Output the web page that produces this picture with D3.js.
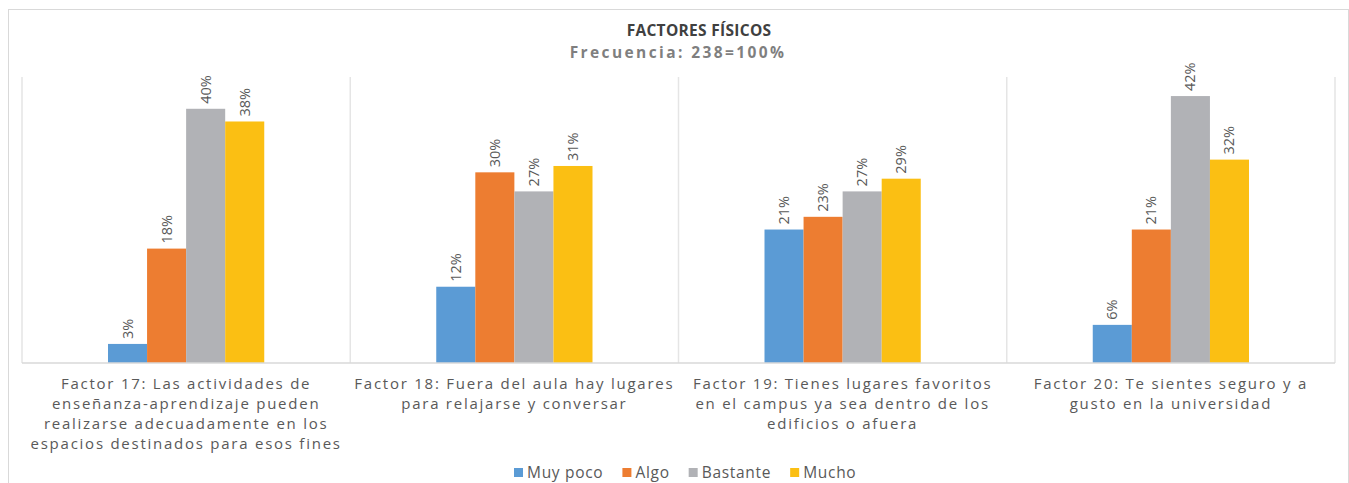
<!DOCTYPE html>
<html>
<head>
<meta charset="utf-8">
<script src="https://cdn.jsdelivr.net/npm/d3@7"></script>
<style>
  body { margin: 0; background: #fff; }
  svg { display: block; font-family: "Open Sans", "Noto Sans", sans-serif; }
</style>
</head>
<body>
<div id="chart"></div>
<script>
// categories (already broken into lines as in the picture)
const categories = [
  ["Factor 17: Las actividades de", "enseñanza-aprendizaje pueden", "realizarse adecuadamente en los", "espacios destinados para esos fines"],
  ["Factor 18: Fuera del aula hay lugares", "para relajarse y conversar"],
  ["Factor 19: Tienes lugares favoritos", "en el campus ya sea dentro de los", "edificios o afuera"],
  ["Factor 20: Te sientes seguro y a", "gusto en la universidad"]
];
const series = ["Muy poco", "Algo", "Bastante", "Mucho"];
const muyPoco  = [3, 12, 21, 6];
const algo     = [18, 30, 23, 21];
const bastante = [40, 27, 27, 42];
const mucho    = [38, 31, 29, 32];
const colors = ["#5B9BD5", "#ED7D31", "#B1B2B6", "#FBBF13"];

const values = [muyPoco, algo, bastante, mucho];
const data = categories.map((c, i) => ({
  key: i,
  lines: c,
  vals: series.map((s, j) => ({ s, v: values[j][i], j }))
}));

const width = 1349, height = 483;
const margin = { top: 77, right: 14, bottom: 120, left: 22 };
const innerW = width - margin.left - margin.right;
const innerH = height - margin.top - margin.bottom;

const svg = d3.select("#chart").append("svg")
  .attr("width", width).attr("height", height);

// outer chart border
svg.append("rect")
  .attr("x", 8.5).attr("y", 9.5)
  .attr("width", 1340).attr("height", 490)
  .attr("fill", "none").attr("stroke", "#D9D9D9");

// titles
svg.append("text")
  .attr("x", 699).attr("y", 36)
  .attr("text-anchor", "middle")
  .style("font-size", "15.5px").style("font-weight", "bold")
  .style("letter-spacing", "0.3px")
  .attr("fill", "#404040")
  .text("FACTORES FÍSICOS");
svg.append("text")
  .attr("x", 678).attr("y", 58)
  .attr("text-anchor", "middle")
  .style("font-size", "15.5px").style("font-weight", "bold")
  .style("letter-spacing", "2.4px")
  .attr("fill", "#7F7F7F")
  .text("Frecuencia: 238=100%");

const g = svg.append("g").attr("transform", `translate(${margin.left},${margin.top})`);

const x0 = d3.scaleBand().domain(data.map(d => d.key)).range([0, innerW]);
const x1 = d3.scaleBand().domain(series).range([86, x0.bandwidth() - 86]);
const y = d3.scaleLinear().domain([0, 45]).range([innerH, 0]);

// vertical separators
g.selectAll(".sep")
  .data(d3.range(data.length + 1))
  .enter().append("line")
  .attr("x1", i => i === data.length ? innerW : x0(i))
  .attr("x2", i => i === data.length ? innerW : x0(i))
  .attr("y1", 0).attr("y2", innerH)
  .attr("stroke", "#E5E5E5").attr("stroke-width", 1.5);

const groups = g.selectAll(".grp").data(data).enter().append("g")
  .attr("transform", d => `translate(${x0(d.key)},0)`);

groups.selectAll("rect").data(d => d.vals).enter().append("rect")
  .attr("x", d => x1(d.s))
  .attr("y", d => y(d.v))
  .attr("width", x1.bandwidth())
  .attr("height", d => innerH - y(d.v))
  .attr("fill", d => colors[d.j]);

groups.selectAll(".lbl").data(d => d.vals).enter().append("text")
  .attr("transform", d => `translate(${x1(d.s) + x1.bandwidth() / 2 + 5},${y(d.v) - 5}) rotate(-90)`)
  .style("font-size", "14.5px")
  .attr("fill", "#595959")
  .text(d => d.v + "%");

// baseline
g.append("line")
  .attr("x1", 0).attr("x2", innerW)
  .attr("y1", innerH).attr("y2", innerH)
  .attr("stroke", "#D9D9D9").attr("stroke-width", 1.5);

// category labels
groups.each(function(d) {
  const t = d3.select(this).append("text")
    .attr("text-anchor", "middle")
    .style("font-size", "15px")
    .style("letter-spacing", "1.75px")
    .attr("fill", "#595959");
  d.lines.forEach((ln, i) => {
    t.append("tspan")
      .attr("x", x0.bandwidth() / 2)
      .attr("y", innerH + 26 + i * 20)
      .text(ln);
  });
});

// legend
const legend = svg.append("g").attr("transform", "translate(514,478)");
let lx = 0;
series.forEach((s, i) => {
  const it = legend.append("g").attr("transform", `translate(${lx},0)`);
  it.append("rect").attr("x", 0).attr("y", -10).attr("width", 9).attr("height", 9).attr("fill", colors[i]);
  const tx = it.append("text").attr("x", 13).attr("y", 0)
    .style("font-size", "15.5px").style("letter-spacing", "0.7px")
    .attr("fill", "#595959").text(s);
  lx += 13 + tx.node().getComputedTextLength() + 19;
});
</script>
</body>
</html>
